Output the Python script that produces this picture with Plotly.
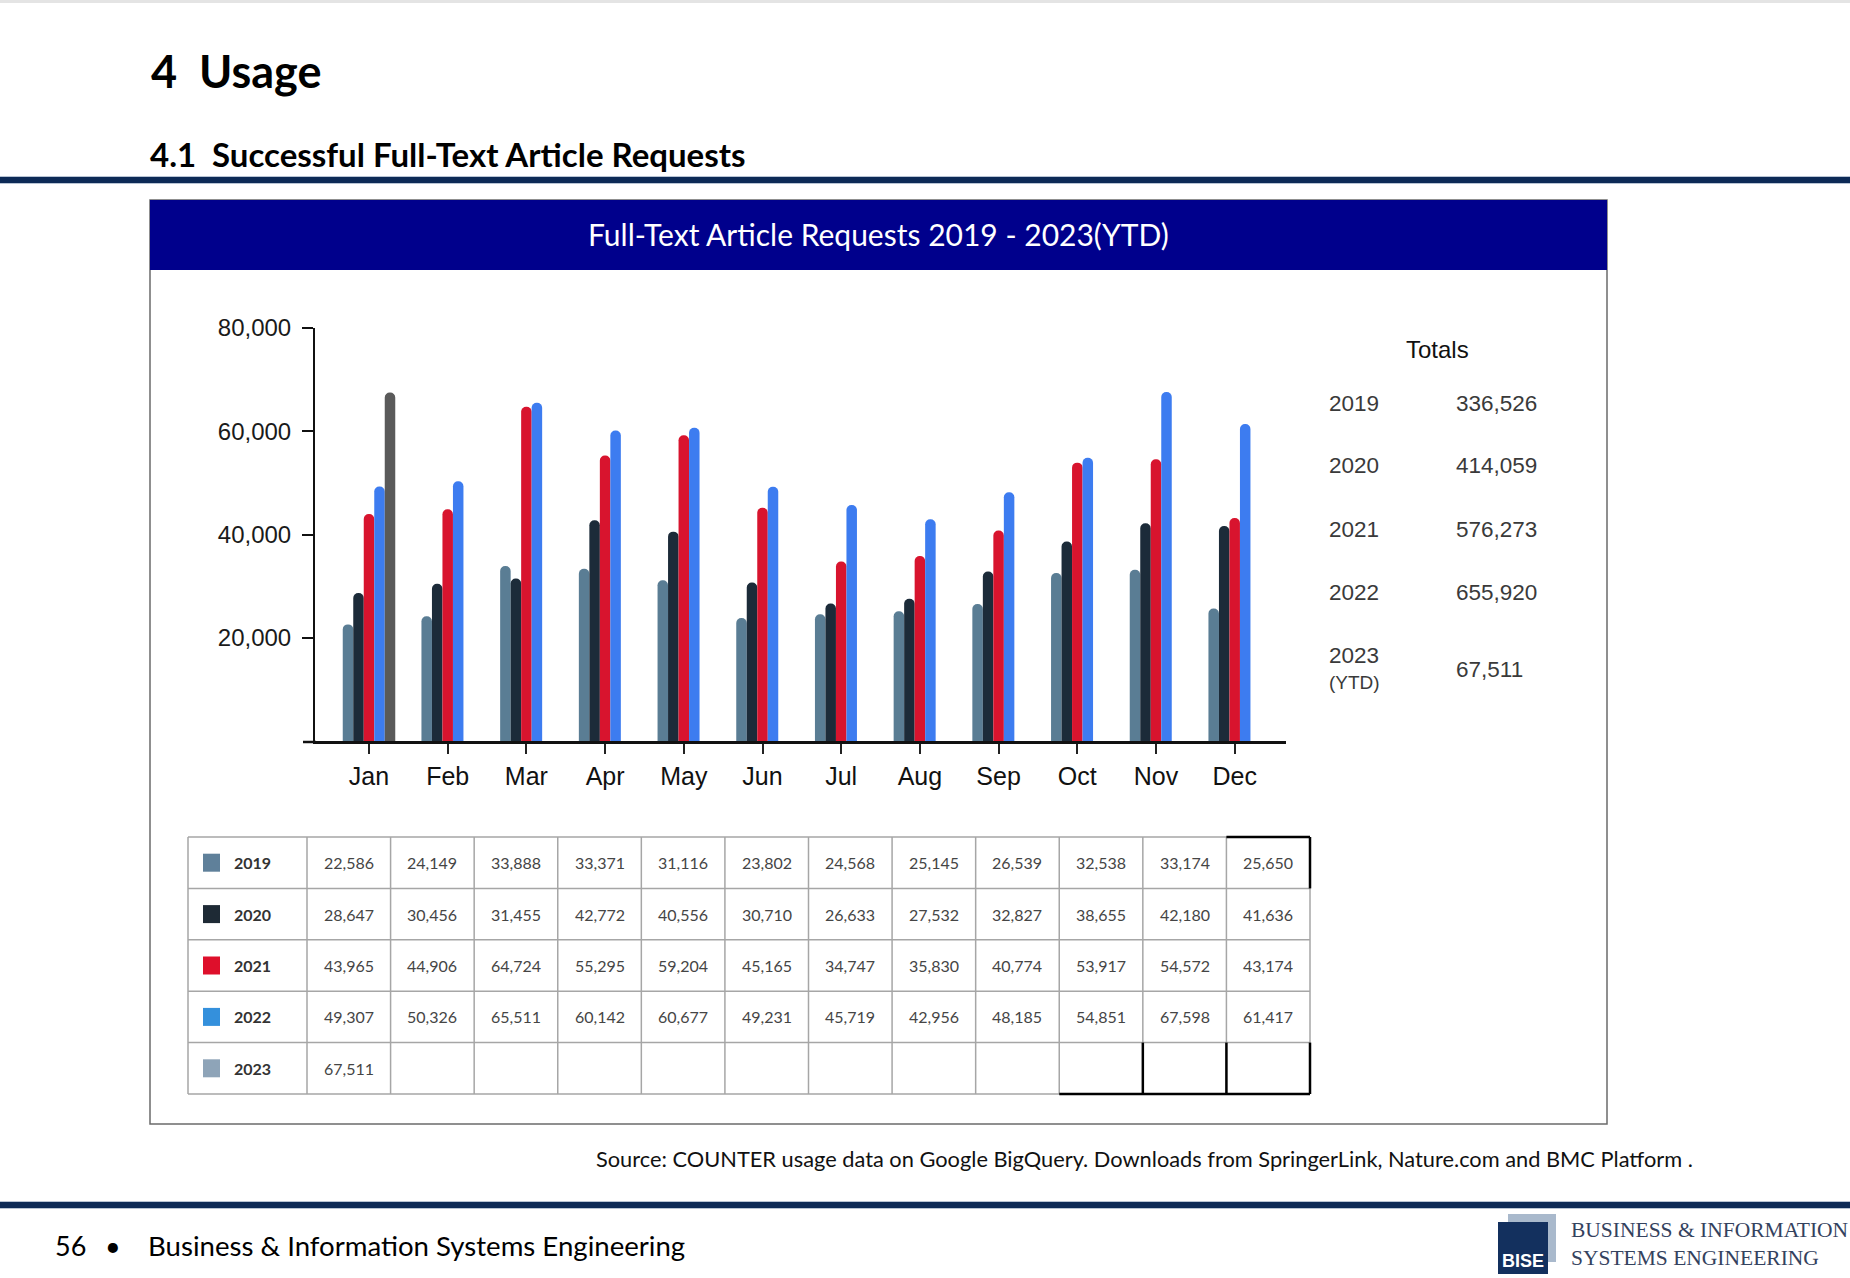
import plotly.graph_objects as go

W, H = 1850, 1278

months = ["Jan", "Feb", "Mar", "Apr", "May", "Jun", "Jul", "Aug", "Sep", "Oct", "Nov", "Dec"]
years = ["2019", "2020", "2021", "2022", "2023"]
v2019 = [22586, 24149, 33888, 33371, 31116, 23802, 24568, 25145, 26539, 32538, 33174, 25650]
v2020 = [28647, 30456, 31455, 42772, 40556, 30710, 26633, 27532, 32827, 38655, 42180, 41636]
v2021 = [43965, 44906, 64724, 55295, 59204, 45165, 34747, 35830, 40774, 53917, 54572, 43174]
v2022 = [49307, 50326, 65511, 60142, 60677, 49231, 45719, 42956, 48185, 54851, 67598, 61417]
v2023 = [67511, None, None, None, None, None, None, None, None, None, None, None]
series = [v2019, v2020, v2021, v2022, v2023]

total_years = ["2019", "2020", "2021", "2022", "2023"]
total_values = ["336,526", "414,059", "576,273", "655,920", "67,511"]

bar_colors = ["#5a7d94", "#1c2b39", "#d8142e", "#3d7cf0", "#5a5a5a"]
swatch_colors = ["#5f809a", "#1e2a35", "#de0f2b", "#3490dc", "#8ea4b8"]


def X(px):
    return px / W


def Y(py):
    return 1 - py / H


CAL = "Lato"
ARIAL = "Liberation Sans"

fig = go.Figure()
idx = list(range(len(months)))
for name, vals, col in zip(years, series, bar_colors):
    fig.add_trace(go.Bar(
        x=idx, y=vals, name=name, marker_color=col,
        marker_line_width=0, marker_cornerradius=5, showlegend=False,
    ))

shapes = []
ann = []

# top faint line
shapes.append(dict(type="rect", xref="paper", yref="paper", x0=0, x1=1, y0=Y(3), y1=Y(0),
                   fillcolor="#e4e4e4", line_width=0, layer="below"))
# headings
ann.append(dict(text="<b>4</b>", x=X(149), y=Y(71), xanchor="left", yanchor="middle",
                font=dict(family=CAL, size=45, color="#000")))
ann.append(dict(text="<b>Usage</b>", x=X(197), y=Y(71), xanchor="left", yanchor="middle",
                font=dict(family=CAL, size=45, color="#000")))
ann.append(dict(text="<b>4.1</b>", x=X(148), y=Y(154), xanchor="left", yanchor="middle",
                font=dict(family=CAL, size=33, color="#000")))
ann.append(dict(text="<b>Successful Full-Text Article Requests</b>", x=X(210), y=Y(154),
                xanchor="left", yanchor="middle", font=dict(family=CAL, size=33, color="#000")))
# navy rule under heading
shapes.append(dict(type="rect", xref="paper", yref="paper", x0=0, x1=1, y0=Y(184), y1=Y(176),
                   fillcolor="#b8c4d4", line_width=0, layer="below"))
shapes.append(dict(type="rect", xref="paper", yref="paper", x0=0, x1=1, y0=Y(183), y1=Y(177),
                   fillcolor="#0d2a56", line_width=0, layer="below"))

# chart box
shapes.append(dict(type="rect", xref="paper", yref="paper", x0=X(150), x1=X(1607), y0=Y(1124), y1=Y(200),
                   fillcolor="rgba(0,0,0,0)", line=dict(color="#6b6b6b", width=1.5), layer="below"))
shapes.append(dict(type="rect", xref="paper", yref="paper", x0=X(150), x1=X(1607), y0=Y(270), y1=Y(200),
                   fillcolor="#00008c", line_width=0, layer="below"))
ann.append(dict(text="Full-Text Article Requests 2019 - 2023(YTD)", x=X(878), y=Y(234),
                xanchor="center", yanchor="middle", font=dict(family=CAL, size=30, color="#fff")))

# x-axis line extension to the left of the y-axis
shapes.append(dict(type="line", xref="paper", yref="paper", x0=X(303), x1=X(316), y0=Y(742), y1=Y(742),
                   line=dict(color="#111", width=2.5)))

# totals
ann.append(dict(text="Totals", x=X(1404), y=Y(349), xanchor="left", yanchor="middle",
                font=dict(family=ARIAL, size=24, color="#111")))
ty = [403, 466, 529, 592, 655]
vy = [403, 466, 529, 592, 669]
for yr, val, a, b in zip(total_years, total_values, ty, vy):
    ann.append(dict(text=yr, x=X(1327), y=Y(a), xanchor="left", yanchor="middle",
                    font=dict(family=ARIAL, size=22.5, color="#3a3a3a")))
    ann.append(dict(text=val, x=X(1454), y=Y(b), xanchor="left", yanchor="middle",
                    font=dict(family=ARIAL, size=22.5, color="#3a3a3a")))
ann.append(dict(text="(YTD)", x=X(1327), y=Y(682), xanchor="left", yanchor="middle",
                font=dict(family=ARIAL, size=19, color="#3a3a3a")))

# data table
t_left, c0_right, t_right = 188, 307, 1310
t_top, row_h = 837, 51.4
n_rows = 5
col_w = (t_right - c0_right) / 12
grid = dict(color="#a6a6a6", width=1.5)
for r in range(n_rows + 1):
    yy = t_top + r * row_h
    shapes.append(dict(type="line", xref="paper", yref="paper", x0=X(t_left), x1=X(t_right),
                       y0=Y(yy), y1=Y(yy), line=grid))
for xx in [t_left, c0_right] + [c0_right + col_w * k for k in range(1, 13)]:
    shapes.append(dict(type="line", xref="paper", yref="paper", x0=X(xx), x1=X(xx),
                       y0=Y(t_top), y1=Y(t_top + n_rows * row_h), line=grid))
blk = dict(color="#000", width=2.5)
# stray dark borders of the original table
xd11, xd12 = c0_right + col_w * 11, c0_right + col_w * 12
shapes.append(dict(type="line", xref="paper", yref="paper", x0=X(xd11), x1=X(xd12),
                   y0=Y(t_top), y1=Y(t_top), line=blk))
shapes.append(dict(type="line", xref="paper", yref="paper", x0=X(xd12), x1=X(xd12),
                   y0=Y(t_top), y1=Y(t_top + row_h), line=blk))
yb0, yb1 = t_top + 4 * row_h, t_top + 5 * row_h
shapes.append(dict(type="line", xref="paper", yref="paper", x0=X(c0_right + col_w * 9), x1=X(xd12),
                   y0=Y(yb1), y1=Y(yb1), line=blk))
for k in (10, 11, 12):
    xx = c0_right + col_w * k
    shapes.append(dict(type="line", xref="paper", yref="paper", x0=X(xx), x1=X(xx),
                       y0=Y(yb0), y1=Y(yb1), line=blk))

for r, (yr, vals, sc) in enumerate(zip(years, series, swatch_colors)):
    cy = t_top + (r + 0.5) * row_h
    shapes.append(dict(type="rect", xref="paper", yref="paper", x0=X(203), x1=X(220),
                       y0=Y(cy + 9), y1=Y(cy - 9), fillcolor=sc, line_width=0))
    ann.append(dict(text=f"<b>{yr}</b>", x=X(232), y=Y(cy), xanchor="left", yanchor="middle",
                    font=dict(family=CAL, size=16, color="#333")))
    for c, v in enumerate(vals):
        if v is None:
            continue
        cx = c0_right + (c + 0.5) * col_w
        ann.append(dict(text=f"{v:,}", x=X(cx), y=Y(cy), xanchor="center", yanchor="middle",
                        font=dict(family=CAL, size=16, color="#454545")))

# source
ann.append(dict(text="Source: COUNTER usage data on Google BigQuery. Downloads from SpringerLink, Nature.com and BMC Platform .",
                x=X(1695), y=Y(1158), xanchor="right", yanchor="middle",
                font=dict(family=CAL, size=21.8, color="#111")))

# bottom rule
shapes.append(dict(type="rect", xref="paper", yref="paper", x0=0, x1=1, y0=Y(1209), y1=Y(1201),
                   fillcolor="#b8c4d4", line_width=0, layer="below"))
shapes.append(dict(type="rect", xref="paper", yref="paper", x0=0, x1=1, y0=Y(1208), y1=Y(1202),
                   fillcolor="#0d2a56", line_width=0, layer="below"))

# footer
ann.append(dict(text="56", x=X(53), y=Y(1245), xanchor="left", yanchor="middle",
                font=dict(family=CAL, size=27, color="#000")))
ann.append(dict(text="•", x=X(113), y=Y(1245), xanchor="center", yanchor="middle",
                font=dict(family=CAL, size=27, color="#000")))
ann.append(dict(text="Business &amp; Information Systems Engineering", x=X(146), y=Y(1245),
                xanchor="left", yanchor="middle", font=dict(family=CAL, size=27.6, color="#000")))

# logo
shapes.append(dict(type="rect", xref="paper", yref="paper", x0=X(1508), x1=X(1556), y0=Y(1262), y1=Y(1214),
                   fillcolor="#a9b9cc", line_width=0))
shapes.append(dict(type="rect", xref="paper", yref="paper", x0=X(1498), x1=X(1548), y0=Y(1274), y1=Y(1222),
                   fillcolor="#13305e", line_width=0))
ann.append(dict(text="<b>BISE</b>", x=X(1523), y=Y(1261), xanchor="center", yanchor="middle",
                font=dict(family=ARIAL, size=18, color="#fff")))
ann.append(dict(text="BUSINESS &amp; INFORMATION", x=X(1569), y=Y(1230), xanchor="left", yanchor="middle",
                font=dict(family="Liberation Serif", size=21.5, color="#34425e")))
ann.append(dict(text="SYSTEMS ENGINEERING", x=X(1569), y=Y(1258), xanchor="left", yanchor="middle",
                font=dict(family="Liberation Serif", size=21.5, color="#34425e")))

for a in ann:
    a.update(xref="paper", yref="paper", showarrow=False)

x0_px, x1_px = 315, 1286
jan_c, spacing = 369, 78.7
fig.update_layout(
    width=W, height=H, margin=dict(l=0, r=0, t=0, b=0, pad=0, autoexpand=False),
    paper_bgcolor="#fff", plot_bgcolor="#fff",
    barmode="group", bargap=0.333, bargroupgap=0,
    showlegend=False,
    shapes=shapes, annotations=ann,
    xaxis=dict(domain=[X(x0_px), X(x1_px)], automargin=False,
               range=[(x0_px - jan_c) / spacing, (x1_px - jan_c) / spacing],
               tickvals=idx, ticktext=months, showline=True, linecolor="#111", linewidth=2.5,
               ticks="outside", ticklen=10, tickwidth=2, tickcolor="#222",
               showgrid=False, zeroline=False, ticklabelstandoff=1,
               tickfont=dict(family=ARIAL, size=25, color="#111")),
    yaxis=dict(domain=[Y(741), Y(328)], range=[0, 80000], automargin=False,
               tickvals=[20000, 40000, 60000, 80000], tickformat=",d",
               showline=True, linecolor="#111", linewidth=2, ticks="outside", ticklen=11,
               tickwidth=1.5, tickcolor="#111", showgrid=False, zeroline=False,
               ticklabelstandoff=6,
               tickfont=dict(family=ARIAL, size=24, color="#1a1a1a")),
)

fig.write_html("out.html", config={"displayModeBar": False})
